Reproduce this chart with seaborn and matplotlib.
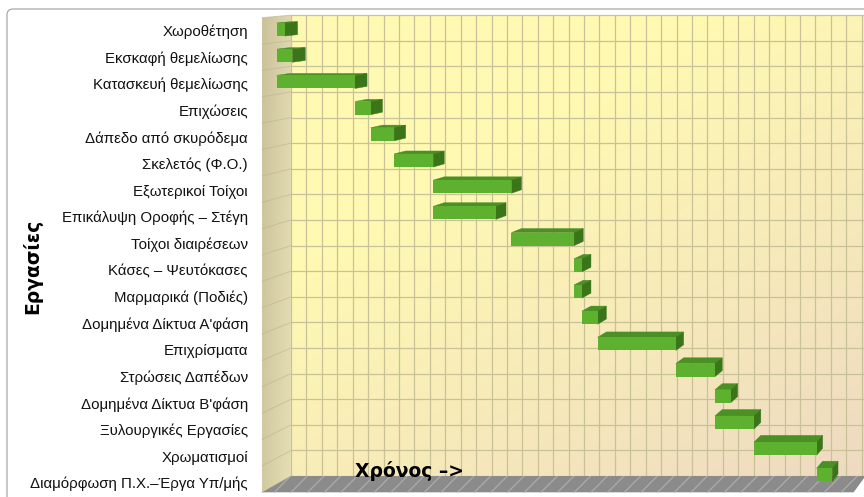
import numpy as np
import pandas as pd
import matplotlib
matplotlib.use("Agg")
import matplotlib.pyplot as plt
from matplotlib.patches import Polygon, FancyBboxPatch
from matplotlib.transforms import IdentityTransform
from matplotlib.colors import to_rgb
import seaborn as sns

# ---- schedule data -------------------------------------------------------
tasks = [
    "Χωροθέτηση",
    "Εκσκαφή θεμελίωσης",
    "Κατασκευή θεμελίωσης",
    "Επιχώσεις",
    "Δάπεδο από σκυρόδεμα",
    "Σκελετός (Φ.Ο.)",
    "Εξωτερικοί Τοίχοι",
    "Επικάλυψη Οροφής – Στέγη",
    "Τοίχοι διαιρέσεων",
    "Κάσες – Ψευτόκασες",
    "Μαρμαρικά (Ποδιές)",
    "Δομημένα Δίκτυα Α'φάση",
    "Επιχρίσματα",
    "Στρώσεις Δαπέδων",
    "Δομημένα Δίκτυα Β'φάση",
    "Ξυλουργικές Εργασίες",
    "Χρωματισμοί",
    "Διαμόρφωση Π.Χ.–Έργα Υπ/μής",
]
start = [0, 0, 0, 10, 12, 15, 20, 20, 30, 38, 38, 39, 41, 51, 56, 56, 61, 69]
duration = [1, 2, 10, 2, 3, 5, 10, 8, 8, 1, 1, 2, 10, 5, 2, 5, 8, 2]

y_title = "Εργασίες"
x_title = "Χρόνος –>"
grid_step = 2
x_max = 74.5

# ---- style ---------------------------------------------------------------
sns.set_theme(style="white")
plt.rcParams["font.family"] = ["Liberation Sans", "DejaVu Sans"]

FRONT = "#5eb02f"
TOP = "#4a9024"
SIDE = "#3a7519"
GRID = "#c9c299"

W, H, DPI = 864, 497, 100
fig = plt.figure(figsize=(W / DPI, H / DPI), dpi=DPI)
fig.patch.set_facecolor("white")

# bar plane: pixel of value 0 / px per unit, pixel of first row centre / px per row
X0, SX = 276.7, 7.825
Y0, SY = 29.5, 26.2
xlim = (-2.5, 76.5)
ylim = (18.2, -1.0)
left_px = X0 + xlim[0] * SX
right_px = X0 + xlim[1] * SX
top_px = Y0 + ylim[1] * SY
bot_px = Y0 + ylim[0] * SY
ax = fig.add_axes([left_px / W, 1 - bot_px / H,
                   (right_px - left_px) / W, (bot_px - top_px) / H])

df = pd.DataFrame({"task": tasks, "start": start, "duration": duration})
sns.barplot(data=df, y="task", x="duration", left=df["start"].to_numpy(),
            orient="h", width=0.5, color=FRONT, saturation=1,
            errorbar=None, ax=ax, zorder=5, linewidth=0)
bars = list(ax.patches)

ax.set_xlim(*xlim)
ax.set_ylim(*ylim)
ax.set_autoscale_on(False)

# perspective: depth planes scale towards a vanishing point (display px)
VP = np.array([1265.0, H + 70.0])
K_FRONT, K_WALL, K_BARBACK = 1.0149, 0.9855, 0.9867


def depth(xy, k):
    p = ax.transData.transform(np.atleast_2d(np.asarray(xy, float)))
    return ax.transData.inverted().transform(VP + (p - VP) * k)


n = len(tasks)
r_top, r_bot = -0.5, n - 0.65
row_edges = np.linspace(r_top, r_bot, n + 1)

# back wall with a soft yellow gradient
(bx0, by0), (bx1, by1) = depth([[0, r_top], [x_max, r_bot]], K_WALL)
ny, nx = 200, 400
u = np.linspace(0, 1, nx)[None, :]
w = np.linspace(0, 1, ny)[:, None]
s = np.clip((0.6 * u + 0.8 * w - 0.45) / 0.95, 0, 1)
c0, c1 = np.array(to_rgb("#fff9b2")), np.array(to_rgb("#eedac2"))
img = c0 + (c1 - c0) * s[..., None]
wall_img = ax.imshow(img, extent=(bx0, bx1, by1, by0), aspect="auto",
                     origin="upper", zorder=0, interpolation="bilinear")
wall_img.set_clip_on(False)

# gridlines on the back wall
for v in np.arange(0, x_max + 1e-9, grid_step):
    p = depth([[v, r_top], [v, r_bot]], K_WALL)
    ax.plot(p[:, 0], p[:, 1], color=GRID, lw=0.9, zorder=1, clip_on=False)
for r in row_edges:
    p = depth([[0, r], [x_max, r]], K_WALL)
    ax.plot(p[:, 0], p[:, 1], color=GRID, lw=0.9, zorder=1, clip_on=False)

# left side wall
fl = depth([[0, r_top], [0, r_bot]], K_FRONT)
bl = depth([[0, r_top], [0, r_bot]], K_WALL)
side_poly = Polygon([fl[0], bl[0], bl[1], fl[1]], closed=True,
                    facecolor="none", edgecolor="none", zorder=2)
ax.add_patch(side_poly)
su = np.linspace(0, 1, 60)[None, :]
sv = np.linspace(0, 1, 120)[:, None]
t = np.clip(0.75 * su + 0.25 * sv, 0, 1)
a0, a1 = np.array(to_rgb("#cbc29b")), np.array(to_rgb("#e6dfb4"))
side_img = ax.imshow(a0 + (a1 - a0) * t[..., None],
                     extent=(fl[0, 0], bl[0, 0], fl[1, 1], bl[0, 1]),
                     aspect="auto", origin="upper", zorder=2)
side_img.set_clip_path(side_poly)
for r in row_edges:
    a = depth([[0, r]], K_FRONT)[0]
    b = depth([[0, r]], K_WALL)[0]
    ax.plot([a[0], b[0]], [a[1], b[1]], color="#bdb48e", lw=0.7,
            alpha=0.6, zorder=3, clip_on=False)

# floor
ff = depth([[0, r_bot], [x_max, r_bot]], K_FRONT)
fb = depth([[0, r_bot], [x_max, r_bot]], K_WALL)
plt.rcParams["hatch.linewidth"] = 1.0
floor = Polygon([ff[0], ff[1], fb[1], fb[0]], closed=True,
                facecolor="#8b8b8b", edgecolor="#a9a9a9", hatch="//",
                linewidth=0, zorder=3, clip_on=False)
ax.add_patch(floor)

# 3-D faces of every bar, built from the drawn bar rectangles
for b in bars:
    b.set_clip_on(False)
    x, y, bw, bh = b.get_x(), b.get_y(), b.get_width(), b.get_height()
    front = np.array([[x, y], [x + bw, y], [x + bw, y + bh], [x, y + bh]])
    back = depth(front, K_BARBACK)
    ax.add_patch(Polygon([front[0], front[1], back[1], back[0]], closed=True,
                         facecolor=TOP, edgecolor=TOP, lw=0.3, zorder=4,
                         clip_on=False))
    ax.add_patch(Polygon([front[1], front[2], back[2], back[1]], closed=True,
                         facecolor=SIDE, edgecolor=SIDE, lw=0.3, zorder=4,
                         clip_on=False))

# category labels on the front plane
for i, name in enumerate(tasks):
    p = ax.transData.transform([[0, i]])[0]
    p = VP + (p - VP) * K_FRONT
    p = p + np.array([-14.0, -5.3])
    lx, ly = ax.transData.inverted().transform(p)
    ax.text(lx, ly, name, ha="right", va="baseline", fontsize=10.8,
            color="#111111", clip_on=False)

ax.set_axis_off()
ax.set_xlim(*xlim)
ax.set_ylim(*ylim)

# axis titles
fig.text(32, H - 266, y_title, transform=IdentityTransform(), rotation=90,
         ha="center", va="center", fontsize=13.5, fontweight="bold",
         family=["DejaVu Sans"], color="#000000")
fig.text(355, H - 476.7, x_title, transform=IdentityTransform(),
         ha="left", va="baseline", fontsize=13.5, fontweight="bold",
         family=["DejaVu Sans"], color="#000000", zorder=10)

# chart area border
fig.add_artist(FancyBboxPatch((7, -40), 920, H - 9 + 40,
                              boxstyle="round,pad=0,rounding_size=6",
                              transform=IdentityTransform(),
                              facecolor="none", edgecolor="#a8a8a8", lw=0.9))

fig.savefig("out.png", dpi=DPI)
